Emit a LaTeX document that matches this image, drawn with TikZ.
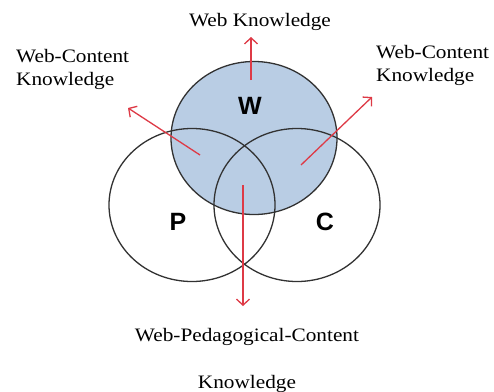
\documentclass[tikz,border=0pt]{standalone}
\usepackage{tikz}
\usepackage{xcolor}
\usepackage{fontspec}
\setmainfont{Liberation Serif}[FakeStretch=1.12]
\newfontfamily\letterfont{Liberation Sans}
\usetikzlibrary{shapes.geometric,arrows.meta}
\definecolor{wfill}{RGB}{185,205,228}
\definecolor{ringgray}{RGB}{50,50,50}
\definecolor{arrowred}{RGB}{222,58,70}

\begin{document}
\begin{tikzpicture}[x=1pt,y=-1pt,
  ring/.style={ellipse,draw=ringgray,line width=1.3pt,minimum width=166pt,minimum height=153pt,inner sep=0pt},
  letter/.style={font=\letterfont\bfseries\fontsize{25}{29}\selectfont,inner sep=0pt},
  caption/.style={font=\fontsize{19}{23}\selectfont,inner sep=0pt},
  pointer/.style={draw=arrowred,line width=1.3pt,-{Straight Barb[length=6pt,width=13pt]}}]
\useasboundingbox (0,0) rectangle (494,391);
\fill [white] (0,0) rectangle (494,391);
% the three circles
\node [ring,fill=wfill] (W) at (254,138) {};
\node [ring] (P) at (192,205) {};
\node [ring] (C) at (297,205) {};
\node [letter] (lw) at (250,106) {W};
\node [letter] (lp) at (178,222) {P};
\node [letter] (lc) at (325,222) {C};
% labels
\node [caption] (web) at (260,22) {Web Knowledge};
\node [caption,align=left,anchor=west] (wcl) at (16,69) {Web-Content\\Knowledge};
\node [caption,align=left,anchor=west] (wcr) at (376,65) {Web-Content\\Knowledge};
\node [caption,align=center,anchor=north] (wpc) at (247,328) {Web-Pedagogical-Content\\[24pt]Knowledge};
% arrows
\coordinate (s1) at (251,80);  \coordinate (e1) at (251,37);
\coordinate (s2) at (200,155); \coordinate (e2) at (128,108);
\coordinate (s3) at (301,165); \coordinate (e3) at (372,97);
\coordinate (s4) at (243,185); \coordinate (e4) at (243,306);
\draw [pointer] (s1) -- (e1);
\draw [pointer] (s2) -- (e2);
\draw [pointer] (s3) -- (e3);
\draw [pointer] (s4) -- (e4);
\end{tikzpicture}
\end{document}
